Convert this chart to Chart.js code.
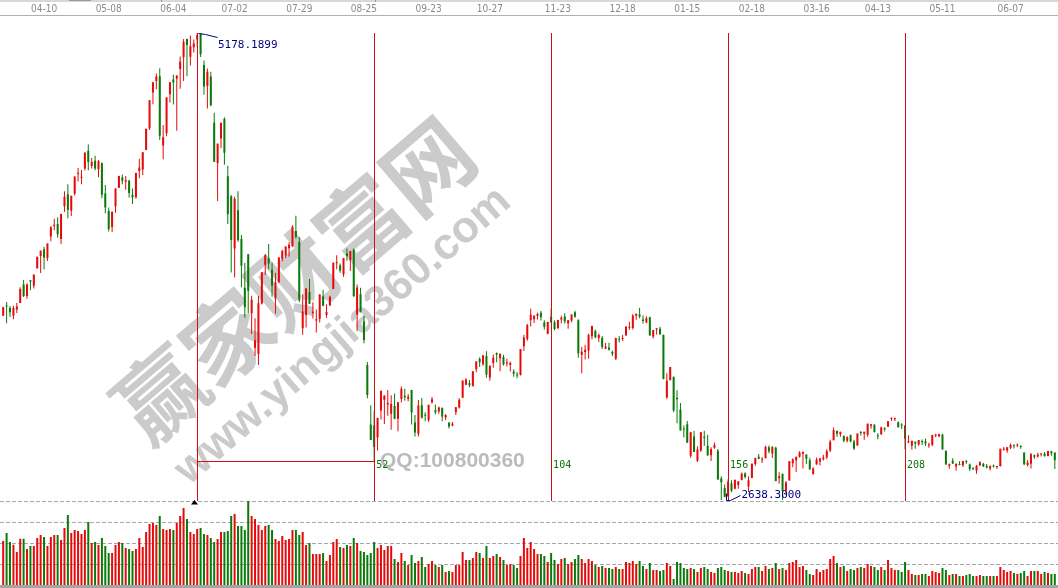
<!DOCTYPE html>
<html><head><meta charset="utf-8">
<script src="https://cdn.jsdelivr.net/npm/chart.js@4.4.1/dist/chart.umd.min.js"></script>
<style>html,body{margin:0;padding:0;background:#fff;}canvas{display:block;}</style>
</head><body>
<canvas id="c" width="1058" height="588"></canvas>
<script>
const open = [
3641,3692,3683,3640,3675,3710,3810,3748,3834,3803,
3899,3966,4002,3953,4072,4129,4140,4058,4236,4301,
4212,4304,4412,4391,4441,4538,4455,4483,4437,4470,
4305,4210,4123,4236,4336,4392,4369,4375,4299,4285,
4428,4436,4542,4660,4854,4917,4943,4566,4633,4845,
4925,4929,4982,5046,5145,5049,5101,5143,5175,5004,
4890,4942,4690,4471,4604,4711,4399,4289,4006,4214,
4058,3793,3975,3654,3467,3432,3707,3918,3953,3890,
3735,3824,3951,3968,4008,4019,4101,4041,3573,3645,
3769,3654,3614,3624,3745,3645,3697,3786,3926,3914,
3866,3979,3943,3999,3646,3757,3610,3373,3049,3043,
2978,3125,3183,3158,3108,3150,3080,3188,3205,3189,
3237,3060,2998,3153,3098,3073,3170,3126,3119,3140,
3087,3058,3044,3116,3141,3195,3265,3275,3257,3350,
3405,3377,3422,3304,3383,3438,3409,3416,3381,3373,
3337,3319,3318,3475,3514,3616,3621,3639,3657,3604,
3542,3635,3605,3574,3620,3636,3600,3614,3659,3616,
3428,3443,3451,3529,3558,3519,3519,3462,3468,3443,
3406,3513,3514,3533,3575,3574,3640,3647,3620,3603,
3632,3528,3566,3570,3536,3196,3291,3309,3194,3131,
3023,3050,2879,2984,2852,2907,2982,2934,2881,2922,
2906,2755,2704,2659,2730,2699,2720,2748,2783,2712,
2758,2834,2874,2855,2866,2925,2891,2923,2756,2781,
2690,2744,2838,2854,2874,2890,2886,2854,2780,2832,
2848,2860,2871,2908,2963,3013,2996,2986,2961,2990,
2956,2935,3004,2998,2993,3042,3047,2989,2997,3029,
3036,3080,3077,3061,3048,3043,2952,2934,2955,2940,
2957,2958,2935,2939,2989,2985,2993,2906,2825,2852,
2820,2834,2827,2847,2831,2807,2799,2826,2836,2823,
2810,2822,2818,2822,2911,2907,2923,2937,2935,2932,
2897,2829,2835,2882,2875,2886,2890,2878,2903,2896];
const high = [
3689,3715,3693,3695,3710,3795,3835,3817,3835,3866,
3961,3995,4016,4034,4128,4168,4176,4195,4317,4356,
4293,4398,4444,4433,4529,4572,4499,4510,4488,4474,
4352,4229,4209,4333,4402,4409,4401,4380,4333,4418,
4493,4529,4658,4814,4911,4958,4986,4678,4829,4911,
4951,4947,5051,5146,5147,5164,5143,5178.19,5176,5029,
4985,4967,4744,4577,4690,4720,4456,4297,4287,4317,
4080,3927,3975,3749,3627,3748,3878,3976,4030,3928,
3874,3959,3999,4017,4040,4132,4184,4069,3757,3790,
3840,3714,3674,3757,3782,3703,3749,3930,3969,3925,
3955,4006,3994,4006,3811,3792,3641,3389,3153,3121,
3085,3232,3207,3237,3208,3218,3171,3256,3243,3215,
3238,3100,3182,3193,3116,3157,3199,3158,3147,3140,
3104,3063,3063,3144,3192,3289,3301,3291,3338,3393,
3415,3425,3447,3370,3430,3441,3434,3428,3407,3392,
3350,3334,3459,3537,3596,3678,3643,3657,3666,3616,
3608,3678,3616,3618,3640,3654,3617,3648,3668,3621,
3470,3483,3543,3586,3566,3544,3530,3493,3494,3452,
3521,3530,3536,3584,3608,3648,3651,3684,3642,3638,
3635,3563,3573,3581,3538,3328,3362,3309,3235,3166,
3044,3068,3010,3013,2930,3008,3015,2993,2925,2951,
2915,2768,2722,2751,2746,2749,2742,2788,2789,2766,
2837,2868,2889,2872,2933,2935,2929,2928,2789,2781,
2742,2849,2866,2874,2903,2901,2886,2868,2816,2869,
2867,2884,2914,2966,3032,3016,3010,2989,2985,2994,
2966,3000,3014,3010,3054,3052,3050,3001,3038,3034,
3068,3087,3087,3065,3056,3046,2990,2961,2956,2965,
2967,2973,2950,2993,2998,2997,2999,2906,2837,2865,
2837,2849,2850,2856,2837,2818,2828,2849,2840,2834,
2827,2832,2823,2917,2926,2925,2945,2939,2945,2936,
2897,2856,2894,2886,2895,2893,2900,2906,2906,2897];
const low = [
3640,3600,3634,3621,3655,3710,3742,3733,3779,3788,
3898,3873,3892,3938,4045,4105,4065,4031,4204,4171,
4183,4295,4370,4356,4430,4432,4441,4432,4394,4280,
4198,4099,4096,4200,4335,4355,4326,4284,4248,4277,
4388,4406,4542,4650,4790,4872,4596,4492,4616,4800,
4789,4647,4875,4917,4943,5001,5072,5103,5048,4842,
4767,4780,4476,4265,4552,4461,4139,3875,3848,4043,
3796,3629,3653,3541,3421,3373,3702,3862,3895,3744,
3652,3817,3937,3954,3963,4015,4059,3714,3537,3577,
3704,3626,3549,3604,3692,3630,3694,3786,3893,3874,
3853,3939,3884,3743,3558,3658,3491,3192,2964,2850.71,
2907,3076,3051,3096,3020,3077,3012,3169,3178,3176,
3049,2983,2983,3082,3066,3062,3163,3104,3108,3067,
3074,3027,3039,3100,3136,3195,3263,3251,3257,3333,
3361,3369,3303,3287,3358,3387,3338,3370,3365,3337,
3309,3300,3316,3448,3505,3582,3601,3620,3614,3566,
3540,3601,3561,3568,3600,3598,3570,3605,3629,3412,
3327,3403,3406,3512,3518,3497,3460,3458,3451,3421,
3400,3495,3503,3533,3564,3566,3619,3627,3598,3599,
3533,3516,3538,3538,3295,3189,3288,3115,3056,3016,
2978,2949,2868,2900,2845,2900,2932,2880,2851,2917,
2749,2638.30,2653,2655,2680,2697,2700,2746,2755,2682,
2758,2825,2860,2840,2866,2893,2867,2740,2727,2639,
2666,2744,2817,2791,2870,2809,2834,2804,2776,2830,
2826,2853,2860,2900,2963,2982,2982,2953,2951,2952,
2910,2934,2989,2966,2982,3026,3006,2969,2992,3011,
3036,3068,3068,3032,3025,2914,2947,2911,2917,2934,
2938,2932,2923,2930,2980,2979,2913,2832,2808,2834,
2797,2827,2818,2835,2796,2802,2781,2825,2818,2810,
2799,2815,2807,2822,2906,2895,2915,2918,2926,2917,
2829,2821,2810,2862,2870,2875,2874,2876,2879,2807];
const close = [
3687,3691,3660,3682,3691,3786,3748,3810,3825,3863,
3961,3994,3957,4034,4121,4135,4084,4194,4287,4217,
4293,4398,4414,4393,4527,4476,4476,4441,4480,4298,
4229,4112,4205,4333,4401,4375,4378,4308,4283,4417,
4446,4529,4657,4813,4910,4941,4620,4611,4828,4910,
4909,4947,5023,5131,5113,5106,5121,5166,5062,4887,
4967,4785,4478,4576,4690,4527,4193,4053,4277,4053,
3912,3687,3776,3727,3507,3709,3877,3970,3924,3805,
3823,3957,3992,4017,4026,4124,4070,3725,3663,3789,
3705,3664,3622,3756,3695,3661,3744,3928,3928,3887,
3955,3965,3993,3748,3794,3664,3508,3210,2965,2927,
3084,3232,3206,3166,3160,3080,3170,3243,3197,3200,
3114,3005,3152,3086,3097,3156,3186,3116,3142,3092,
3100,3038,3053,3143,3183,3287,3293,3263,3338,3391,
3387,3425,3320,3369,3412,3429,3434,3375,3387,3383,
3325,3316,3459,3522,3590,3646,3640,3650,3632,3580,
3606,3604,3568,3617,3630,3610,3616,3647,3635,3436,
3445,3456,3536,3584,3524,3536,3470,3472,3455,3434,
3520,3510,3516,3580,3578,3642,3651,3636,3612,3627,
3533,3563,3572,3539,3296,3287,3361,3125,3186,3016,
3022,2949,3007,2900,2913,3007,2976,2880,2916,2938,
2750,2735,2656,2737,2689,2749,2739,2781,2763,2746,
2836,2867,2862,2860,2927,2903,2928,2741,2767,2687,
2733,2849,2859,2874,2897,2901,2862,2804,2810,2859,
2864,2870,2904,2955,3018,2999,3009,2960,2979,2957,
2919,3000,3003,3009,3053,3050,3008,2985,3033,3023,
3066,3082,3078,3034,3043,2972,2953,2960,2946,2964,
2954,2945,2938,2992,2991,2997,2913,2832,2833,2837,
2835,2828,2850,2843,2807,2806,2825,2843,2821,2815,
2822,2821,2822,2917,2913,2925,2938,2934,2936,2927,
2833,2842,2887,2873,2885,2888,2878,2905,2892,2854];
const volume = [
660,780,645,605,495,695,695,540,585,585,
705,750,720,585,720,750,750,675,855,1050,
780,825,810,765,825,945,630,645,600,705,
585,480,480,600,645,630,555,540,510,540,
705,570,795,915,930,900,1035,840,825,840,
825,930,1035,1155,990,795,765,840,855,765,
750,705,645,690,795,795,810,1035,1065,885,
885,825,1260,1035,990,900,825,885,900,825,
690,660,735,675,690,825,825,750,795,600,
630,465,465,465,480,360,450,645,690,570,
555,600,585,705,630,510,495,450,480,645,
555,600,525,585,585,390,345,480,360,300,
450,330,360,420,270,315,360,300,270,300,
195,210,195,300,300,495,375,375,405,495,
480,405,585,405,435,465,420,375,300,315,
300,255,435,705,555,
645,540,465,465,435,345,480,375,315,390,
405,315,345,390,450,390,330,390,360,300,
270,285,255,255,240,270,240,240,345,330,
360,315,360,285,240,330,225,225,210,225,
330,285,90,345,330,255,240,255,240,195,
255,270,240,195,180,255,270,225,210,195,
195,180,210,180,165,240,270,270,210,285,
240,255,330,240,255,225,330,345,375,270,
285,225,165,150,240,195,225,240,390,435,
330,270,285,210,240,225,255,270,255,315,
285,270,225,270,225,375,255,225,225,195,
345,225,165,150,150,165,165,135,210,195,
180,255,225,150,165,165,135,135,150,165,
135,135,150,135,135,135,135,135,270,225,
195,210,180,165,180,210,135,210,210,210,
165,195,180,165,165];
const categories = close.map((_, i) => i);
const tickLabels = ['04-10','05-08','06-04','07-02','07-29','08-25','09-23','10-27','11-23','12-18','01-15','02-18','03-16','04-13','05-11','06-07'];
const tickIndex = [12,31,50,68,87,106,125,143,163,182,201,220,239,257,276,296];
const peakIndex = 57, peakValue = 5178.1899;
const lowIndex = 211, lowValue = 2638.3000;
const cycle = 52, cycleCount = 4;
const volGrid = [1260, 945, 630, 315];

const RED = '#e60a0a', GREEN = '#0a7a0a';
const colors = close.map((c, i) => c >= open[i] ? RED : GREEN);

const decor = {
  id: 'decor',
  beforeDatasetsDraw(chart) {
    const c = chart.ctx;
    c.save();
    c.fillStyle = 'rgba(190,190,190,0.8)';
    c.textAlign = 'center'; c.textBaseline = 'middle';
    c.save();
    c.translate(294, 280); c.rotate(-40.5 * Math.PI / 180);
    c.font = 'bold 88px "Noto Sans CJK SC"';
    c.fillText('赢家财富网', 0, 0);
    c.restore();
    c.save();
    c.translate(343, 336); c.rotate(-41 * Math.PI / 180);
    c.font = 'bold 44px "Liberation Sans"';
    c.fillText('www.yingjia360.com', 0, 0);
    c.restore();
    c.fillStyle = 'rgba(175,175,175,0.85)';
    c.textAlign = 'left'; c.textBaseline = 'alphabetic';
    c.font = 'bold 21px "Liberation Sans"';
    c.fillText('QQ:100800360', 380, 467);
    const yv = chart.scales.yv;
    c.strokeStyle = '#a8a8a8'; c.lineWidth = 1; c.setLineDash([4, 2]);
    volGrid.forEach(v => {
      const y = Math.round(yv.getPixelForValue(v)) + 0.5;
      c.beginPath(); c.moveTo(0, y); c.lineTo(1058, y); c.stroke();
    });
    c.restore();
  },
  afterDatasetsDraw(chart) {
    const c = chart.ctx, x = chart.scales.x, y = chart.scales.y, yv = chart.scales.yv;
    c.save();
    const topY = Math.round(y.getPixelForValue(peakValue));
    const botY = Math.round(yv.getPixelForValue(1260));
    c.strokeStyle = '#d01010'; c.lineWidth = 1;
    const px = Math.round(x.getPixelForValue(peakIndex)) + 0.5;
    for (let k = 0; k <= cycleCount; k++) {
      const lx = Math.round(x.getPixelForValue(peakIndex + k * cycle)) + 0.5;
      c.beginPath(); c.moveTo(lx, topY); c.lineTo(lx, botY); c.stroke();
    }
    const hy = Math.round(y.getPixelForValue(low[peakIndex + cycle])) + 0.5;
    const x52 = Math.round(x.getPixelForValue(peakIndex + cycle)) + 0.5;
    c.beginPath(); c.moveTo(px, hy); c.lineTo(x52, hy); c.stroke();
    c.fillStyle = '#0a700a'; c.font = '10px "DejaVu Sans Mono"'; c.textBaseline = 'middle'; c.textAlign = 'left';
    for (let k = 1; k <= cycleCount; k++) {
      const lx = x.getPixelForValue(peakIndex + k * cycle);
      c.fillText(String(k * cycle), lx + 2, 465);
    }
    c.strokeStyle = '#000080'; c.fillStyle = '#000080';
    const py = y.getPixelForValue(peakValue);
    c.beginPath(); c.moveTo(px + 1, py + 0.5); c.lineTo(px + 8, py + 1.5); c.lineTo(px + 20, py + 4.5); c.stroke();
    c.font = '11px "DejaVu Sans Mono"';
    c.fillText(peakValue.toFixed(4), px + 20.5, py + 12);
    const lxp = Math.round(x.getPixelForValue(lowIndex)) + 0.5;
    const ly = Math.round(y.getPixelForValue(lowValue)) + 0.5;
    c.beginPath(); c.moveTo(lxp + 5, ly - 7); c.lineTo(lxp + 5, ly); c.lineTo(lxp + 9, ly); c.lineTo(lxp + 19, ly - 5); c.stroke();
    c.fillText(lowValue.toFixed(4), lxp + 20, ly - 5.5);
    const ty = botY;
    c.fillStyle = '#000';
    c.beginPath(); c.moveTo(px - 6.5, ty + 3.5); c.lineTo(px + 0.5, ty + 3.5); c.lineTo(px - 3, ty - 1); c.closePath(); c.fill();
    c.restore();
  },
  afterDraw(chart) {
    const c = chart.ctx;
    c.save();
    c.fillStyle = '#dcd8d0'; c.fillRect(0, 0, 1058, 2);
    c.fillStyle = '#9a9a9a'; c.fillRect(69, 0, 22, 1);
    c.fillRect(161, 0, 1, 2); c.fillRect(375, 0, 1, 2);
    c.fillStyle = '#b0b0b0'; c.fillRect(0, 15, 1058, 1);
    c.fillStyle = '#a4a4a4'; c.fillRect(0, 585, 1058, 3);
    c.restore();
  }
};

new Chart(document.getElementById('c'), {
  type: 'bar',
  data: {
    labels: categories,
    datasets: [
      { label: 'wick', data: low.map((l, i) => [l, high[i]]), backgroundColor: colors, barThickness: 1, grouped: false, yAxisID: 'y', inflateAmount: 0, borderWidth: 0, order: 2 },
      { label: 'body', data: open.map((o, i) => [o, close[i]]), backgroundColor: colors, barThickness: 2, grouped: false, minBarLength: 1, yAxisID: 'y', inflateAmount: 0, borderWidth: 0, order: 1 },
      { label: 'volume', data: volume, backgroundColor: colors, barThickness: 2, grouped: false, yAxisID: 'yv', inflateAmount: 0, borderWidth: 0, order: 3 }
    ]
  },
  options: {
    responsive: false, animation: false, devicePixelRatio: 1,
    layout: { padding: { left: 1.5, right: 1.5, top: 0, bottom: 3 } },
    plugins: { legend: { display: false }, tooltip: { enabled: false } },
    scales: {
      x: {
        position: 'top', offset: true,
        grid: { display: false, drawTicks: false }, border: { display: false },
        afterBuildTicks(s) { s.ticks = tickIndex.map(v => ({ value: v })); },
        afterFit(s) { s.height = 17; },
        ticks: {
          autoSkip: false, maxRotation: 0, minRotation: 0, padding: 1.5, color: '#8a8a8a',
          font: { family: "'Liberation Sans Narrow','DejaVu Sans Condensed',sans-serif", size: 10 },
          callback: (v, i) => tickLabels[i]
        }
      },
      y: { display: false, min: 2176.0, max: 5265.2 },
      yv: { display: false, min: 0, max: 8520 }
    }
  },
  plugins: [decor]
});
</script>
</body></html>
